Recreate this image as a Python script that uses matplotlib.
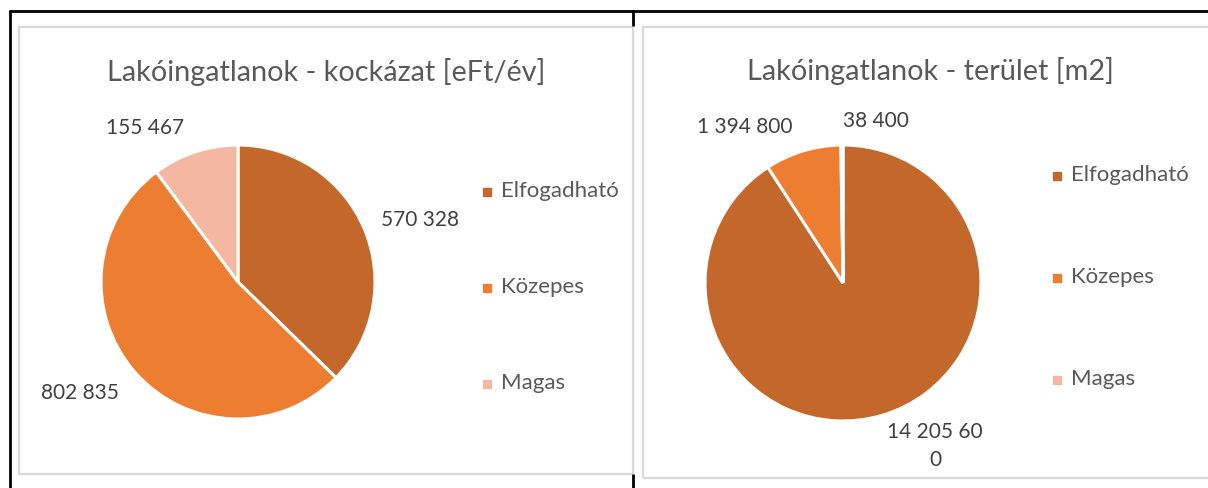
import numpy as np
import matplotlib
matplotlib.use('Agg')
import matplotlib.pyplot as plt
from matplotlib.lines import Line2D
from matplotlib.patches import Rectangle

plt.rcParams['font.family'] = ['Lato', 'DejaVu Sans']

# data
categories = ['Elfogadható', 'Közepes', 'Magas']
kockazat = [570328, 802835, 155467]
terulet = [14205600, 1394800, 38400]
titles = ['Lakóingatlanok - kockázat [eFt/év]', 'Lakóingatlanok - terület [m2]']
colors = ['#C4672B', '#ED7D31', '#F4B8A2']
text_color = '#595959'
label_color = '#404040'

W, H = 1208, 488
fig = plt.figure(figsize=(W / 100, H / 100), dpi=100)
fig.patch.set_facecolor('white')


def px_box(x0, y0, x1, y1):
    # pixel box (top-left origin) -> figure fraction rect
    return [x0 / W, 1 - y1 / H, (x1 - x0) / W, (y1 - y0) / H]


def fmt(v):
    return '{:,}'.format(v).replace(',', ' ')


# table lines and chart frames
def fline(xs, ys, color, lw):
    fig.add_artist(Line2D([x / W for x in xs], [1 - y / H for y in ys],
                          color=color, lw=lw, transform=fig.transFigure,
                          solid_capstyle='butt'))


fline([9, W], [11, 11], 'black', 2)
fline([10, 10], [10, H], 'black', 2)
fline([633, 633], [10, 26], 'black', 2)
fline([633, 633], [474, H], 'black', 2)
for x0, y0, x1, y1 in [(18.5, 26.5, 633, 473.5), (643, 27, W + 5, 477.5)]:
    r = Rectangle((x0 / W, 1 - y1 / H), (x1 - x0) / W, (y1 - y0) / H,
                  transform=fig.transFigure, facecolor='none',
                  edgecolor='#D9D9D9', lw=1.6, zorder=-1)
    fig.add_artist(r)


def draw_pie(values, cx, cy, rad, title, tx, ty, lab_pos, leg_x, leg_y, leg_gap):
    ax = fig.add_axes(px_box(cx - rad, cy - rad, cx + rad, cy + rad))
    wedges, _ = ax.pie(values, colors=colors, startangle=90, counterclock=False,
                       radius=1, wedgeprops=dict(edgecolor='white', linewidth=2.2))
    ax.set_xlim(-1, 1)
    ax.set_ylim(-1, 1)
    ax.set_aspect('equal')
    ax.axis('off')
    # data labels (label offsets in pixels from pie center)
    for v, (dx, dy) in zip(values, lab_pos):
        s = fmt(v)
        if len(s) > 9:
            s = s[:-1] + '\n' + s[-1]
        ax.text(dx / rad, dy / rad, s, ha='center', va='center',
                fontsize=15, color=label_color, linespacing=1.5,
                clip_on=False)
    fig.text(tx / W, 1 - ty / H, title, ha='center', va='center',
             fontsize=20.8, color=text_color)
    for i, c in enumerate(categories):
        y = leg_y + i * leg_gap
        fig.add_artist(Line2D([leg_x / W], [1 - y / H], marker='s', markersize=6,
                              color=colors[i], ls='none', transform=fig.transFigure))
        fig.text((leg_x + 14) / W, 1 - (y - 1) / H, c, ha='left', va='center',
                 fontsize=16, color=text_color)


draw_pie(kockazat, 238, 282, 137, titles[0], 326, 72,
         [(182, 62), (-158, -111), (-93, 154)], 487, 192, 96)
draw_pie(terulet, 843, 283, 138, titles[1], 930, 71,
         [(92, -163), (-98, 156), (33, 162)], 1057, 176, 102)

fig.savefig('out.png', dpi=100, facecolor='white')
